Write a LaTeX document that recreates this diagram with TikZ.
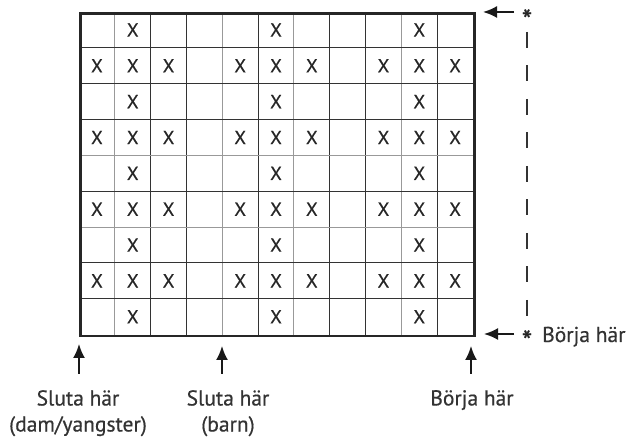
\documentclass[tikz,border=0pt]{standalone}
\usepackage{fontspec}
\setmainfont{PT Sans}
\newfontfamily\labfont[FakeBold=0.5]{PT Sans}
\usetikzlibrary{arrows.meta}
\begin{document}
\begin{tikzpicture}[x=1pt,y=-1pt,
  lab/.style={font=\labfont\fontsize{21.5}{26}\selectfont, text=black!80, align=center, inner sep=0},
  xmark/.style={font=\labfont\fontsize{19}{19}\selectfont, text=black!85, inner sep=0},
  arr/.style={-{Latex[length=14pt,width=12pt]}, line width=2pt, draw=black!90},
  gridlt/.style={line width=0.9pt, draw=black!40},
  griddk/.style={line width=0.9pt, draw=black!80},
  star/.style={font=\labfont\fontsize{30}{30}\selectfont, text=black!85, inner sep=0}]
\useasboundingbox (0,0) rectangle (627,443);
\def\cw{35.82}
\def\ch{35.85}
% inner grid lines
\foreach \k in {1,...,10}{
  \pgfmathsetmacro{\xx}{79+\k*\cw}
  \pgfmathtruncatemacro{\isl}{(\k==1)||(\k==4)||(\k==6)||(\k==9)}
  \ifnum\isl=1
    \draw[gridlt] (\xx,12) -- (\xx,334.6);
  \else
    \draw[griddk] (\xx,12) -- (\xx,334.6);
  \fi
}
\foreach \k in {1,...,8}{
  \pgfmathsetmacro{\yy}{12+\k*\ch}
  \pgfmathtruncatemacro{\isl}{(\k==4)||(\k==6)}
  \ifnum\isl=1
    \draw[gridlt] (79,\yy) -- (473,\yy);
  \else
    \draw[griddk] (79,\yy) -- (473,\yy);
  \fi
}
% outer frame
\node[draw=black!85, line width=2.6pt, minimum width=394pt, minimum height=322.6pt,
      inner sep=0, anchor=north west] (grid) at (79,12) {};
% X marks
\foreach \r in {1,3,5,7,9}{
  \foreach \c in {2,6,10}{
    \node[xmark] (x-\r-\c) at ({79+(\c-0.5)*\cw},{12+(\r-0.5)*\ch}) {X};
  }
}
\foreach \r in {2,4,6,8}{
  \foreach \c in {1,2,3,5,6,7,9,10,11}{
    \node[xmark] (x-\r-\c) at ({79+(\c-0.5)*\cw},{12+(\r-0.5)*\ch}) {X};
  }
}
% bottom labels
\node[lab, anchor=north] (l1) at (78,390) {Sluta här\\(dam/yangster)};
\node[lab, anchor=north] (l2) at (228,390) {Sluta här\\(barn)};
\node[lab, anchor=north] (l3) at (472,390) {Börja här};
% bottom arrows
\coordinate (t1) at (79,374); \coordinate (h1) at (79,344);
\coordinate (t2) at (222,374); \coordinate (h2) at (222,346);
\coordinate (t3) at (471,374); \coordinate (h3) at (471,346);
\draw[arr] (t1) -- (h1);
\draw[arr] (t2) -- (h2);
\draw[arr] (t3) -- (h3);
% right side
\node[star] (s1) at (527,20) {*};
\node[star] (s2) at (527,341) {*};
\coordinate (t4) at (514,12); \coordinate (h4) at (483,12);
\coordinate (t5) at (514,334); \coordinate (h5) at (484,334);
\draw[arr] (t4) -- (h4);
\draw[arr] (t5) -- (h5);
\coordinate (d1) at (527,32); \coordinate (d2) at (527,317);
\draw[line width=2pt, draw=black!80, dash pattern=on 16pt off 17.5pt] (d1) -- (d2);
\node[lab, anchor=base west] (l4) at (542,342) {Börja här};
\end{tikzpicture}
\end{document}
